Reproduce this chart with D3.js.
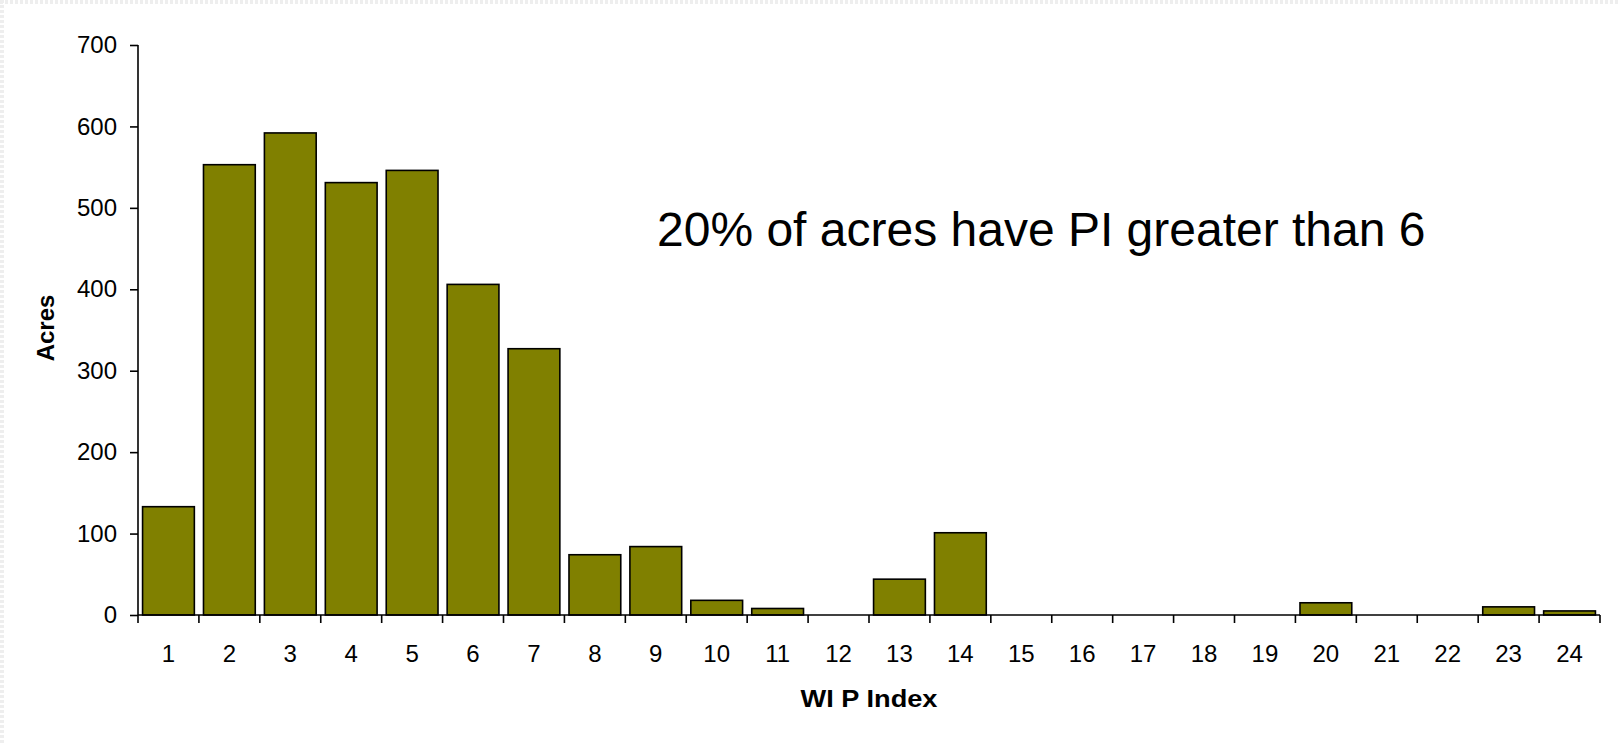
<!DOCTYPE html>
<html>
<head>
  <meta charset="utf-8">
  <style>
    body { margin: 0; background: #fff; }
    svg { display: block; }
    text { font-family: "Liberation Sans", Arial, sans-serif; fill: #000; }
  </style>
</head>
<body>
  <svg width="1619" height="744"></svg>
  <script src="https://d3js.org/d3.v7.min.js"></script>
  <script>
    // values
    var categories = ["1", "2", "3", "4", "5", "6", "7", "8", "9", "10", "11", "12",
      "13", "14", "15", "16", "17", "18", "19", "20", "21", "22", "23", "24"];
    var acres = [133, 553, 592, 531, 546, 406, 327, 74, 84, 18, 8, 0,
      44, 101, 0, 0, 0, 0, 0, 15, 0, 0, 10, 5];
    var yTicks = [0, 100, 200, 300, 400, 500, 600, 700];
    var note = "20% of acres have PI greater than 6";
    var xTitle = "WI P Index";
    var yTitle = "Acres";

    var svg = d3.select("svg"),
      width = +svg.attr("width"),
      height = +svg.attr("height"),
      margin = { top: 45, right: 19, bottom: 129, left: 138 },
      w = width - margin.left - margin.right,
      h = height - margin.top - margin.bottom,
      g = svg.append("g").attr("transform", "translate(" + margin.left + "," + margin.top + ")");

    // faint slide edge at top and left
    svg.append("path")
      .attr("d", "M0,2H" + width + "M2,0V" + height)
      .attr("stroke", "#eeeeee")
      .attr("stroke-width", 4)
      .attr("stroke-dasharray", "3,2")
      .attr("fill", "none");

    var data = categories.map(function (c, i) { return { cat: c, value: acres[i] }; });

    var x = d3.scaleBand()
      .domain(categories)
      .range([0, w])
      .paddingInner(0.15)
      .paddingOuter(0.075);

    var y = d3.scaleLinear()
      .domain([0, 700])
      .range([h, 0]);

    // bars
    g.append("g")
      .selectAll("rect")
      .data(data)
      .enter().append("rect")
      .attr("x", function (d) { return x(d.cat); })
      .attr("y", function (d) { return y(d.value); })
      .attr("width", x.bandwidth())
      .attr("height", function (d) { return h - y(d.value); })
      .attr("fill", "#808000")
      .attr("stroke", "#000")
      .attr("stroke-width", 1.6);

    // y axis
    var yAxis = g.append("g")
      .call(d3.axisLeft(y).tickValues(yTicks).tickSize(8).tickPadding(13));
    yAxis.selectAll("text").attr("font-size", 24);
    yAxis.selectAll("line, path").attr("stroke", "#000").attr("stroke-width", 1.6);
    yAxis.select("path").attr("d", "M0," + h + "V0");

    // x axis: ticks sit between the categories
    var xAxis = g.append("g")
      .attr("transform", "translate(0," + h + ")");
    xAxis.append("line")
      .attr("x1", 0).attr("x2", w)
      .attr("stroke", "#000").attr("stroke-width", 1.6);
    var gap = (x.step() - x.bandwidth()) / 2;
    xAxis.selectAll(".tick")
      .data(d3.range(categories.length + 1))
      .enter().append("line")
      .attr("class", "tick")
      .attr("x1", function (i) { return i === categories.length ? w : x(categories[i]) - gap; })
      .attr("x2", function (i) { return i === categories.length ? w : x(categories[i]) - gap; })
      .attr("y1", 0).attr("y2", 8)
      .attr("stroke", "#000").attr("stroke-width", 1.6);
    xAxis.selectAll(".lbl")
      .data(categories)
      .enter().append("text")
      .attr("class", "lbl")
      .attr("x", function (d) { return x(d) + x.bandwidth() / 2; })
      .attr("y", 39)
      .attr("dy", "0.35em")
      .attr("text-anchor", "middle")
      .attr("font-size", 24)
      .text(function (d) { return d; });

    // axis titles
    svg.append("text")
      .attr("x", margin.left + w / 2)
      .attr("y", 699)
      .attr("dy", "0.35em")
      .attr("text-anchor", "middle")
      .attr("font-size", 24)
      .attr("font-weight", "bold")
      .attr("textLength", 137)
      .attr("lengthAdjust", "spacingAndGlyphs")
      .text(xTitle);

    svg.append("text")
      .attr("transform", "translate(46,328)rotate(-90)")
      .attr("dy", "0.35em")
      .attr("text-anchor", "middle")
      .attr("font-size", 24)
      .attr("font-weight", "bold")
      .text(yTitle);

    // annotation
    svg.append("text")
      .attr("x", 657)
      .attr("y", 229)
      .attr("dy", "0.35em")
      .attr("font-size", 48)
      .text(note);
  </script>
</body>
</html>
